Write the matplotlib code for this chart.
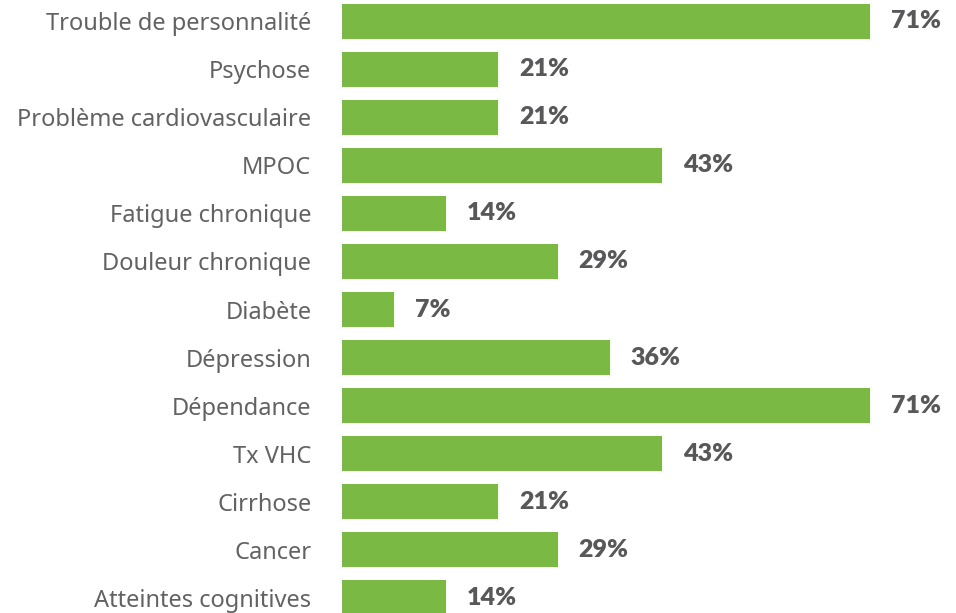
import matplotlib.pyplot as plt

categories = ['Trouble de personnalité', 'Psychose', 'Problème cardiovasculaire', 'MPOC',
              'Fatigue chronique', 'Douleur chronique', 'Diabète', 'Dépression',
              'Dépendance', 'Tx VHC', 'Cirrhose', 'Cancer', 'Atteintes cognitives']
values = [71, 21, 21, 43, 14, 29, 7, 36, 71, 43, 21, 29, 14]

green = '#7ab943'
grey = '#58585a'

fig = plt.figure(figsize=(9.56, 6.13), dpi=100)
ax = fig.add_axes([342 / 956, 0, 528 / 956, 1])

y = list(range(len(categories)))
ax.barh(y, values, height=35 / 48, color=green)
ax.set_xlim(0, 71)
ax.set_ylim((613 - 21.5) / 48, -21.5 / 48)

for yi, v in zip(y, values):
    ax.annotate(f'{v}%', (v, yi), xytext=(15, 0), textcoords='offset points',
                va='center', ha='left', fontsize=18, fontweight='heavy',
                color=grey, family='Lato', annotation_clip=False)

ax.set_yticks(y)
ax.set_yticklabels(categories, fontsize=17, color='#626264', family='Noto Sans', fontweight='light')
ax.tick_params(axis='y', length=0, pad=22)
ax.set_xticks([])
for s in ax.spines.values():
    s.set_visible(False)

fig.savefig('out.png', dpi=100)
